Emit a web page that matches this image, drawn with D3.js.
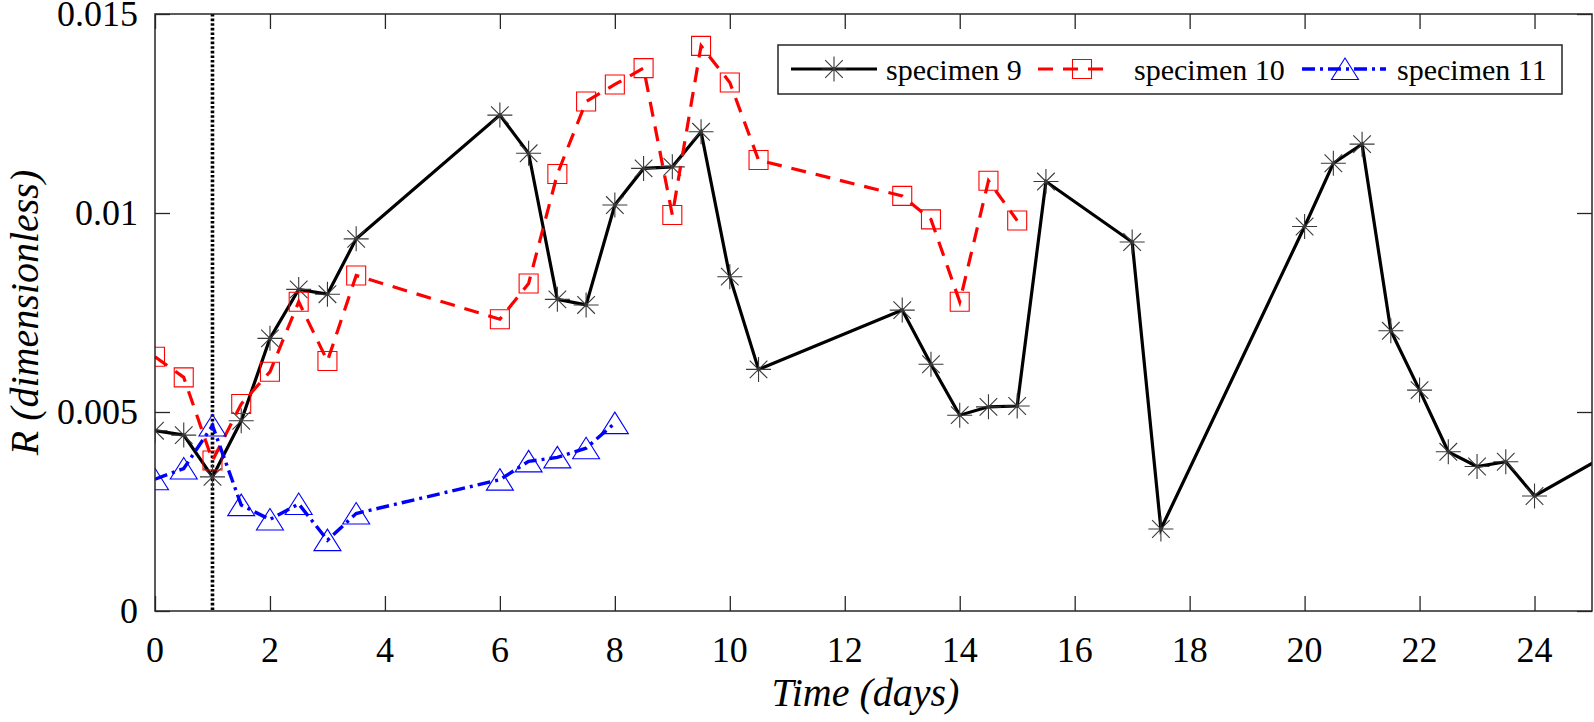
<!DOCTYPE html>
<html>
<head>
<meta charset="utf-8">
<script src="https://cdn.jsdelivr.net/npm/d3@7"></script>
<style>
  body { margin: 0; background: #fff; }
  svg text { font-family: "Liberation Serif", "Times New Roman", Times, "DejaVu Serif", serif; }
</style>
</head>
<body>
<svg width="1594" height="722"></svg>
<script>
// days for each specimen
const time9 = [0, 0.5, 1, 1.5, 2, 2.5, 3, 3.5, 6, 6.5, 7, 7.5, 8, 8.5, 9, 9.5, 10, 10.5, 13, 13.5, 14, 14.5, 15, 15.5, 17, 17.5, 20, 20.5, 21, 21.5, 22, 22.5, 23, 23.5, 24, 25.5]
const r9 = [4.53, 4.42, 3.37, 4.78, 6.85, 8.08, 7.96, 9.35, 12.46, 11.50, 7.83, 7.69, 10.20, 11.12, 11.16, 12.04, 8.40, 6.07, 7.56, 6.20, 4.92, 5.13, 5.15, 10.79, 9.27, 2.06, 9.66, 11.25, 11.73, 7.04, 5.55, 4.00, 3.63, 3.75, 2.89, 4.12].map(v => v / 1000)

const time10 = [0, 0.5, 1, 1.5, 2, 2.5, 3, 3.5, 6, 6.5, 7, 7.5, 8, 8.5, 9, 9.5, 10, 10.5, 13, 13.5, 14, 14.5, 15]
const r10 = [6.39, 5.87, 3.78, 5.20, 6.01, 7.77, 6.28, 8.43, 7.33, 8.23, 10.98, 12.80, 13.23, 13.64, 9.95, 14.20, 13.28, 11.33, 10.43, 9.84, 7.77, 10.81, 9.81].map(v => v / 1000)

const time11 = [0, 0.5, 1, 1.5, 2, 2.5, 3, 3.5, 6, 6.5, 7, 7.5, 8]
const r11 = [3.31, 3.58, 4.66, 2.66, 2.30, 2.69, 1.78, 2.45, 3.30, 3.76, 3.86, 4.09, 4.72].map(v => v / 1000)

const seriesNames = ['specimen 9', 'specimen 10', 'specimen 11']
const xTicks = [0, 2, 4, 6, 8, 10, 12, 14, 16, 18, 20, 22, 24]
const yTicks = [0, 0.005, 0.01, 0.015]
const yTickLabels = ['0', '0.005', '0.01', '0.015']
const markerLine = 1   // vertical dotted line at day 1

const svg = d3.select('svg')
const margin = {top: 14, right: 2, bottom: 111, left: 155}
const width = +svg.attr('width')
const height = +svg.attr('height')
const innerWidth = width - margin.left - margin.right
const innerHeight = height - margin.top - margin.bottom
const axisColor = '#262626'

const xScale = d3.scaleLinear().domain([0, 25]).range([margin.left, margin.left + innerWidth])
const yScale = d3.scaleLinear().domain([0, 0.015]).range([margin.top + innerHeight, margin.top])

svg.append('defs').append('clipPath').attr('id', 'clip')
  .append('rect')
  .attr('x', margin.left).attr('y', margin.top)
  .attr('width', innerWidth).attr('height', innerHeight)

// tick marks point inward on all four sides; labels are drawn separately
const tickLen = 15
const bareAxis = sel => {
  sel.select('.domain').remove()
  sel.selectAll('.tick text').remove()
  sel.selectAll('.tick line').attr('stroke', axisColor).attr('stroke-width', 1.3)
}
svg.append('g').attr('transform', `translate(0,${margin.top + innerHeight})`)
  .call(d3.axisBottom(xScale).tickValues(xTicks).tickSizeInner(-tickLen))
  .call(bareAxis)
svg.append('g').attr('transform', `translate(0,${margin.top})`)
  .call(d3.axisTop(xScale).tickValues(xTicks).tickSizeInner(-tickLen))
  .call(bareAxis)
svg.append('g').attr('transform', `translate(${margin.left},0)`)
  .call(d3.axisLeft(yScale).tickValues(yTicks).tickSizeInner(-tickLen))
  .call(bareAxis)
svg.append('g').attr('transform', `translate(${margin.left + innerWidth},0)`)
  .call(d3.axisRight(yScale).tickValues(yTicks).tickSizeInner(-tickLen))
  .call(bareAxis)

xTicks.forEach(d => {
  svg.append('text')
    .attr('x', xScale(d))
    .attr('y', margin.top + innerHeight + 51)
    .attr('text-anchor', 'middle')
    .style('font-size', '36px')
    .text(d)
})

yTicks.forEach((d, i) => {
  svg.append('text')
    .attr('x', margin.left - 17)
    .attr('y', yScale(d) + 12)
    .attr('text-anchor', 'end')
    .style('font-size', '36px')
    .text(yTickLabels[i])
})

// dotted vertical line at day 1
svg.append('line')
  .attr('x1', xScale(markerLine)).attr('x2', xScale(markerLine))
  .attr('y1', margin.top).attr('y2', margin.top + innerHeight)
  .attr('stroke', '#000').attr('stroke-width', 3.6)
  .attr('stroke-dasharray', '2.6,2')

const plot = svg.append('g').attr('clip-path', 'url(#clip)')

const starPath = 'M0,-12.5V12.5M-12.5,0H12.5M-8.8,-8.8L8.8,8.8M-8.8,8.8L8.8,-8.8'
const squarePath = 'M-9.5,-9.5H9.5V9.5H-9.5Z'
const triPath = 'M0,-11L13.5,10.5H-13.5Z'

const series = [
  {name: seriesNames[0], x: time9, y: r9, color: '#000', dash: null, width: 3.2, marker: starPath, mColor: '#3a3a3a'},
  {name: seriesNames[1], x: time10, y: r10, color: '#ff0000', dash: '15,10', width: 3.2, marker: squarePath, mColor: '#ff0000'},
  {name: seriesNames[2], x: time11, y: r11, color: '#0000ff', dash: '13,5,3,5', width: 3.4, marker: triPath, mColor: '#0000ff'}
]

const line = d3.line().x(d => xScale(d[0])).y(d => yScale(d[1]))

series.forEach(s => {
  const pts = s.x.map((t, i) => [t, s.y[i]])
  plot.append('path').datum(pts)
    .attr('d', line)
    .attr('fill', 'none')
    .attr('stroke', s.color)
    .attr('stroke-width', s.width)
    .attr('stroke-dasharray', s.dash)
  plot.selectAll(null).data(pts).enter().append('path')
    .attr('transform', d => `translate(${xScale(d[0])},${yScale(d[1])})`)
    .attr('d', s.marker)
    .attr('fill', 'none')
    .attr('stroke', s.mColor)
    .attr('stroke-width', 1.1)
})

// box
svg.append('rect')
  .attr('x', margin.left).attr('y', margin.top)
  .attr('width', innerWidth).attr('height', innerHeight)
  .attr('fill', 'none').attr('stroke', axisColor).attr('stroke-width', 1.5)

// axis labels
svg.append('text')
  .attr('x', margin.left + innerWidth / 2 - 8).attr('y', 706)
  .attr('text-anchor', 'middle')
  .style('font-size', '40px').style('font-style', 'italic')
  .text('Time (days)')

svg.append('text')
  .attr('transform', `translate(38,${margin.top + innerHeight / 2}) rotate(-90)`)
  .attr('text-anchor', 'middle')
  .style('font-size', '40px').style('font-style', 'italic')
  .text('R (dimensionless)')

// legend
const legend = svg.append('g')
legend.append('rect')
  .attr('x', 778).attr('y', 45).attr('width', 784).attr('height', 49)
  .attr('fill', '#fff').attr('stroke', axisColor).attr('stroke-width', 1.5)

const legendItems = [
  {x1: 791, x2: 877, mx: 834, tx: 886},
  {x1: 1038, x2: 1113, mx: 1082, tx: 1134},
  {x1: 1302, x2: 1386, mx: 1345, tx: 1397}
]
legendItems.forEach((it, i) => {
  const s = series[i]
  legend.append('line')
    .attr('x1', it.x1).attr('x2', it.x2).attr('y1', 69).attr('y2', 69)
    .attr('stroke', s.color).attr('stroke-width', s.width)
    .attr('stroke-dasharray', s.dash)
  legend.append('path')
    .attr('transform', `translate(${it.mx},69)`)
    .attr('d', s.marker)
    .attr('fill', 'none').attr('stroke', s.mColor).attr('stroke-width', 1.1)
  legend.append('text')
    .attr('x', it.tx).attr('y', 80)
    .style('font-size', '30px')
    .text(s.name)
})
</script>
</body>
</html>
